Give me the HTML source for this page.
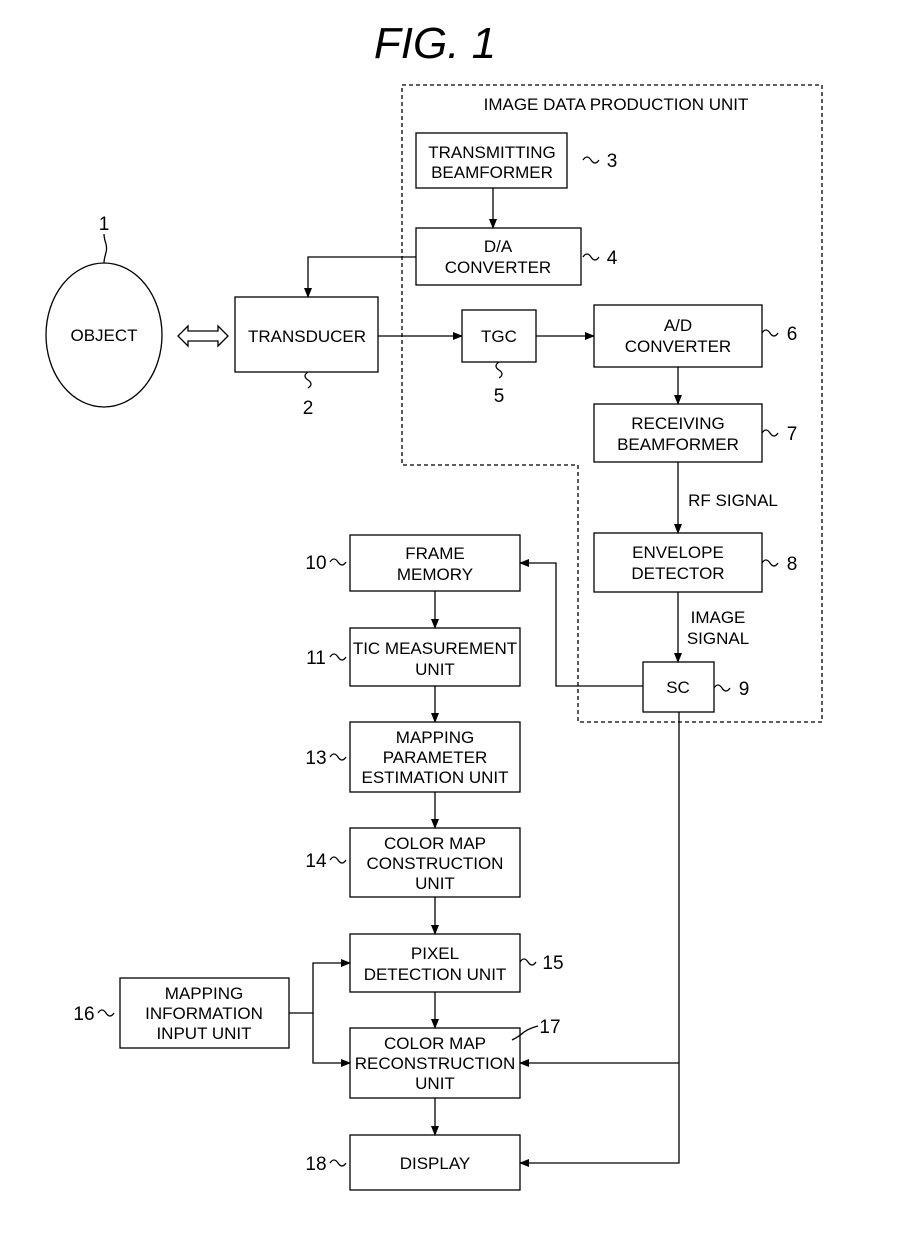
<!DOCTYPE html>
<html><head><meta charset="utf-8"><style>
html,body{margin:0;padding:0;background:#fff;}
svg{display:block;}
text{font-family:"Liberation Sans",sans-serif;fill:#000;}
.b{font-size:17px;text-anchor:middle;}
.n{font-size:19px;text-anchor:middle;}
</style></head><body>
<svg width="921" height="1240" viewBox="0 0 921 1240" xmlns="http://www.w3.org/2000/svg">
<defs><marker id="a" markerWidth="10" markerHeight="10" refX="9" refY="5" orient="auto" markerUnits="userSpaceOnUse"><path d="M0,1 L10,5 L0,9 z" fill="#000"/></marker></defs>
<text x="435" y="58" style="font-size:44px;font-style:italic;text-anchor:middle">FIG.  1</text>
<g fill="none" stroke="#000" stroke-width="1.3">
<path d="M402,85 L822,85 L822,722 L578,722 L578,465 L402,465 Z" stroke-dasharray="4,3"/>
<rect x="416" y="133" width="151" height="55"/>
<rect x="416" y="228" width="165" height="57"/>
<ellipse cx="104" cy="335" rx="58" ry="72"/>
<rect x="235" y="297" width="143" height="75"/>
<rect x="462" y="310" width="74" height="52"/>
<rect x="594" y="305" width="168" height="62"/>
<rect x="594" y="404" width="168" height="58"/>
<rect x="594" y="533" width="168" height="59"/>
<rect x="643" y="662" width="71" height="50"/>
<rect x="350" y="535" width="170" height="56"/>
<rect x="350" y="628" width="170" height="58"/>
<rect x="350" y="722" width="170" height="70"/>
<rect x="350" y="828" width="170" height="69"/>
<rect x="350" y="934" width="170" height="58"/>
<rect x="350" y="1028" width="170" height="70"/>
<rect x="350" y="1135" width="170" height="55"/>
<rect x="120" y="978" width="169" height="70"/>
<g marker-end="url(#a)">
<path d="M493,188 V228"/>
<path d="M416,257 H308 V297"/>
<path d="M378,336 H462"/>
<path d="M536,336 H594"/>
<path d="M678,367 V404"/>
<path d="M678,462 V533"/>
<path d="M678,592 V662"/>
<path d="M643,686 H556 V563 H520"/>
<path d="M435,591 V628"/>
<path d="M435,686 V722"/>
<path d="M435,792 V828"/>
<path d="M435,897 V934"/>
<path d="M435,992 V1028"/>
<path d="M435,1098 V1135"/>
<path d="M289,1013 H313 V963 H350"/>
<path d="M313,1013 V1063 H350"/>
<path d="M679,712 V1163 H520"/>
<path d="M679,1063 H520"/>
</g>
<path d="M178,336 L188,326 V331 H218 V326 L228,336 L218,346 V341 H188 V346 Z"/>
<path d="M104,263 C104,255 108,252 106,244 C104,238 104,236 104,234"/>
<path d="M583,160 q4,-6 8,0 q4,6 8,0"/>
<path d="M583,257 q4,-6 8,0 q4,6 8,0"/>
<path d="M762,333 q4,-6 8,0 q4,6 8,0"/>
<path d="M762,433 q4,-6 8,0 q4,6 8,0"/>
<path d="M762,563 q4,-6 8,0 q4,6 8,0"/>
<path d="M714,688 q4,-6 8,0 q4,6 8,0"/>
<path d="M308,372 q-6,4 0,8 q6,4 0,8"/>
<path d="M499,362 q-6,4 0,8 q6,4 0,8"/>
<path d="M330,562 q4,-6 8,0 q4,6 8,0"/>
<path d="M330,657 q4,-6 8,0 q4,6 8,0"/>
<path d="M330,757 q4,-6 8,0 q4,6 8,0"/>
<path d="M330,860 q4,-6 8,0 q4,6 8,0"/>
<path d="M330,1163 q4,-6 8,0 q4,6 8,0"/>
<path d="M98,1013 q4,-6 8,0 q4,6 8,0"/>
<path d="M520,962 q4,-6 8,0 q4,6 8,0"/>
<path d="M512,1040 q8,-4 12,-8 q6,-4 14,-6"/>
</g>
<text x="616" y="110" class="b">IMAGE DATA PRODUCTION UNIT</text>
<text x="492" y="158" class="b">TRANSMITTING</text><text x="492" y="178" class="b">BEAMFORMER</text>
<text x="498" y="252" class="b">D/A</text><text x="498" y="273" class="b">CONVERTER</text>
<text x="104" y="341" class="b">OBJECT</text>
<text x="307" y="342" class="b">TRANSDUCER</text>
<text x="499" y="342" class="b">TGC</text>
<text x="678" y="331" class="b">A/D</text><text x="678" y="352" class="b">CONVERTER</text>
<text x="678" y="429" class="b">RECEIVING</text><text x="678" y="450" class="b">BEAMFORMER</text>
<text x="733" y="506" class="b">RF SIGNAL</text>
<text x="678" y="558" class="b">ENVELOPE</text><text x="678" y="579" class="b">DETECTOR</text>
<text x="718" y="623" class="b">IMAGE</text><text x="718" y="644" class="b">SIGNAL</text>
<text x="678" y="693" class="b">SC</text>
<text x="435" y="559" class="b">FRAME</text><text x="435" y="580" class="b">MEMORY</text>
<text x="435" y="654" class="b">TIC MEASUREMENT</text><text x="435" y="675" class="b">UNIT</text>
<text x="435" y="743" class="b">MAPPING</text><text x="435" y="763" class="b">PARAMETER</text><text x="435" y="783" class="b">ESTIMATION UNIT</text>
<text x="435" y="849" class="b">COLOR MAP</text><text x="435" y="869" class="b">CONSTRUCTION</text><text x="435" y="889" class="b">UNIT</text>
<text x="435" y="959" class="b">PIXEL</text><text x="435" y="980" class="b">DETECTION UNIT</text>
<text x="435" y="1049" class="b">COLOR MAP</text><text x="435" y="1069" class="b">RECONSTRUCTION</text><text x="435" y="1089" class="b">UNIT</text>
<text x="435" y="1169" class="b">DISPLAY</text>
<text x="204" y="999" class="b">MAPPING</text><text x="204" y="1019" class="b">INFORMATION</text><text x="204" y="1039" class="b">INPUT UNIT</text>
<text x="104" y="230" class="n">1</text>
<text x="308" y="414" class="n">2</text>
<text x="612" y="167" class="n">3</text>
<text x="612" y="264" class="n">4</text>
<text x="499" y="402" class="n">5</text>
<text x="792" y="340" class="n">6</text>
<text x="792" y="440" class="n">7</text>
<text x="792" y="570" class="n">8</text>
<text x="744" y="695" class="n">9</text>
<text x="316" y="569" class="n">10</text>
<text x="316" y="664" class="n">11</text>
<text x="316" y="764" class="n">13</text>
<text x="316" y="867" class="n">14</text>
<text x="553" y="969" class="n">15</text>
<text x="84" y="1020" class="n">16</text>
<text x="550" y="1033" class="n">17</text>
<text x="316" y="1170" class="n">18</text>
</svg>
</body></html>
